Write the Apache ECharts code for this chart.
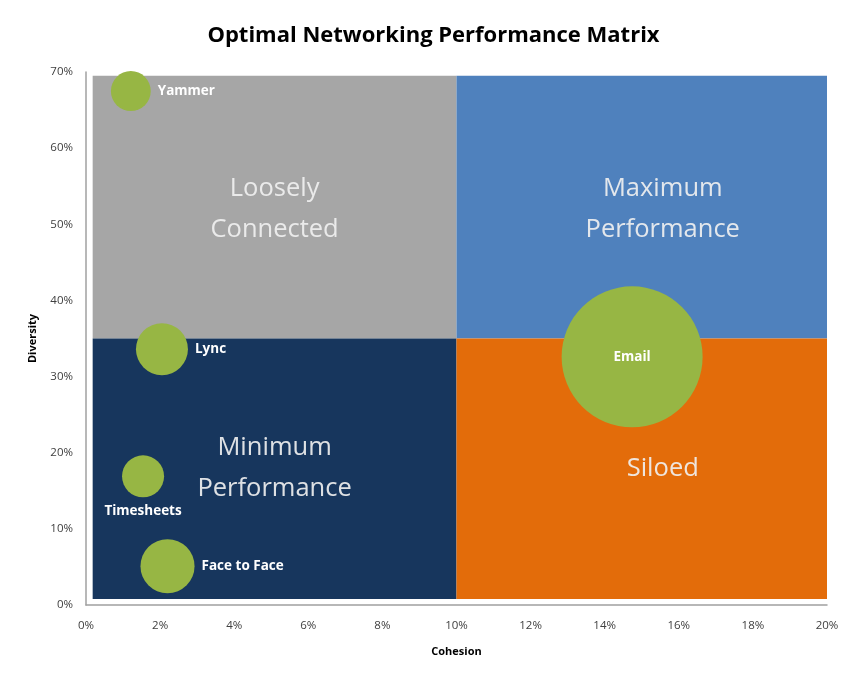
<!DOCTYPE html>
<html>
<head>
<meta charset="utf-8">
<script src="https://cdn.jsdelivr.net/npm/echarts@6/dist/echarts.min.js"></script>
<style>
html,body{margin:0;padding:0;background:#fff;}
#chart{width:867px;height:680px;}
</style>
</head>
<body>
<div id="chart"></div>
<script>
// Bubble data
var names = ['Yammer', 'Lync', 'Timesheets', 'Face to Face', 'Email'];
var cohesion = [1.21, 2.05, 1.54, 2.2, 14.74];      // % (x)
var diversity = [67.5, 33.6, 16.9, 5.1, 32.6];      // % (y)
var bubbleSize = [8.0, 13.6, 8.9, 14.7, 100];       // relative bubble size
var labelPos = ['right', 'right', 'bottom', 'right', 'inside'];

// Quadrants
var quadNames = ['Loosely\nConnected', 'Maximum\nPerformance', 'Minimum\nPerformance', 'Siloed'];
var quadX0 = [0.18, 10, 0.18, 10];
var quadX1 = [10, 20, 10, 20];
var quadY0 = [35, 35, 0.8, 0.8];
var quadY1 = [69.5, 69.5, 35, 35];
var quadColors = ['#a6a6a6', '#4f81bd', '#17365d', '#e36c0a'];
var quadLabelOffset = [[0, 2], [21, 2], [0, 0], [21, 0]];

// Axis ticks
var xMin = 0, xMax = 20, xStep = 2;
var yMin = 0, yMax = 70, yStep = 10;

var chart = echarts.init(document.getElementById('chart'));

var areas = quadNames.map(function (n, i) {
  return [
    { name: n, xAxis: quadX0[i], yAxis: quadY0[i],
      itemStyle: { color: quadColors[i], opacity: 1 },
      label: { offset: quadLabelOffset[i] } },
    { xAxis: quadX1[i], yAxis: quadY1[i] }
  ];
});

var bubbles = names.map(function (n, i) {
  return {
    name: n,
    value: [cohesion[i], diversity[i], bubbleSize[i]],
    label: { position: labelPos[i], distance: labelPos[i] === 'bottom' ? 7 : 7 }
  };
});

chart.setOption({
  animation: false,
  title: {
    text: 'Optimal Networking Performance Matrix',
    left: 'center',
    top: 20,
    textStyle: { fontFamily: 'Open Sans', fontWeight: 'bold', fontSize: 22, color: '#000' }
  },
  grid: { left: 86, right: 40, top: 72, bottom: 75 },
  xAxis: {
    type: 'value', min: xMin, max: xMax, interval: xStep,
    name: 'Cohesion', nameLocation: 'middle', nameGap: 41,
    nameTextStyle: { fontFamily: 'Open Sans', fontWeight: 'bold', fontSize: 11, color: '#000' },
    axisLine: { show: true, lineStyle: { color: '#a0a0a0', width: 1.5 } },
    axisTick: { show: false },
    splitLine: { show: false },
    axisLabel: { formatter: '{value}%', fontFamily: 'Open Sans', fontSize: 11.5, color: '#404040', margin: 15 }
  },
  yAxis: {
    type: 'value', min: yMin, max: yMax, interval: yStep,
    name: 'Diversity', nameLocation: 'middle', nameGap: 48,
    nameTextStyle: { fontFamily: 'Open Sans', fontWeight: 'bold', fontSize: 11, color: '#000' },
    axisLine: { show: true, lineStyle: { color: '#a0a0a0', width: 1.5 } },
    axisTick: { show: false },
    splitLine: { show: false },
    axisLabel: { formatter: '{value}%', fontFamily: 'Open Sans', fontSize: 11.5, color: '#404040', margin: 13 }
  },
  series: [
    {
      type: 'scatter',
      data: bubbles,
      symbolSize: function (v) { return 14.1 * Math.sqrt(v[2]); },
      itemStyle: { color: '#97b644', opacity: 1 },
      label: {
        show: true,
        formatter: '{b}',
        color: '#ffffff',
        fontFamily: 'Open Sans',
        fontWeight: 'bold',
        fontSize: 13.5
      },
      z: 5,
      markArea: {
        silent: true,
        label: {
          show: true,
          position: 'inside',
          color: 'rgba(240,240,240,0.92)',
          fontFamily: 'Open Sans',
          fontSize: 25.5,
          lineHeight: 41
        },
        data: areas
      }
    }
  ]
});
</script>
</body>
</html>
